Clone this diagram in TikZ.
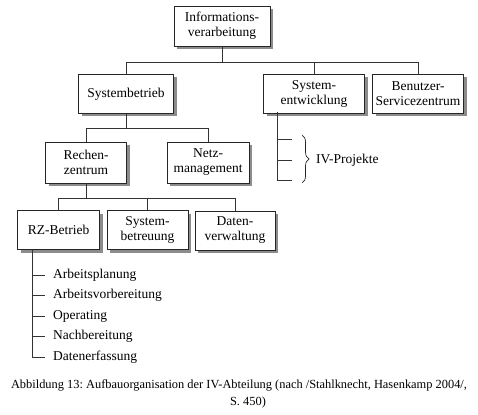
\documentclass[tikz,border=0pt]{standalone}
\usepackage{fontspec}
\setmainfont{Liberation Serif}
\usetikzlibrary{shadows,decorations.pathreplacing}
\frenchspacing
\begin{document}
\begin{tikzpicture}[x=1pt,y=-1pt,
  orgbox/.style={draw=black!85, line width=0.8pt, fill=white, align=center, inner sep=0pt,
    font=\fontsize{13.5}{15}\selectfont,
    general shadow={fill=black!45, shadow xshift=3pt, shadow yshift=-3pt}},
  conn/.style={draw=black!80, line width=0.9pt},
  item/.style={anchor=west, inner sep=0pt, font=\fontsize{13.5}{15}\selectfont},
  captext/.style={inner sep=0pt, font=\fontsize{12.4}{14}\selectfont}]
\useasboundingbox (0,0) rectangle (478,414);
% boxes
\node[orgbox, minimum width=96pt, minimum height=40pt] (info) at (222,26) {Informations-\\verarbeitung};
\node[orgbox, minimum width=95pt, minimum height=39pt] (sysb) at (126,94) {Systembetrieb};
\node[orgbox, minimum width=101pt, minimum height=39pt] (syse) at (314,93.5) {System-\\entwicklung};
\node[orgbox, minimum width=91pt, minimum height=39pt] (benu) at (418,93.5) {Benutzer-\\Servicezentrum};
\node[orgbox, minimum width=81pt, minimum height=41pt] (rech) at (86,162.5) {Rechen-\\zentrum};
\node[orgbox, minimum width=82pt, minimum height=41pt] (netz) at (208,162.5) {Netz-\\management};
\node[orgbox, minimum width=82pt, minimum height=39pt] (rzb) at (58.5,230) {RZ-Betrieb};
\node[orgbox, minimum width=81pt, minimum height=39pt] (sbt) at (147.5,230) {System-\\betreuung};
\node[orgbox, minimum width=80pt, minimum height=39pt] (dat) at (235,230.5) {Daten-\\verwaltung};
% level connectors
\coordinate (h1) at (222,62);
\coordinate (h2) at (126,128);
\coordinate (h3) at (86,198);
\draw[conn] (info.south) -- (h1);
\draw[conn] (sysb.north) -- (sysb.north |- h1) -- (benu.north |- h1) -- (benu.north);
\draw[conn] (syse.north) -- (syse.north |- h1);
\draw[conn] (sysb.south) -- (h2);
\draw[conn] (rech.north) -- (rech.north |- h2) -- (netz.north |- h2) -- (netz.north);
\draw[conn] (rech.south) -- (h3);
\draw[conn] (rzb.north) -- (rzb.north |- h3) -- (dat.north |- h3) -- (dat.north);
\draw[conn] (sbt.north) -- (sbt.north |- h3);
% IV-Projekte
\coordinate (pv) at (277,112);
\coordinate (p1) at (292,139);
\coordinate (p2) at (292,160);
\coordinate (p3) at (292,180);
\draw[conn] (pv) -- (pv |- p3) -- (p3);
\draw[conn] (pv |- p1) -- (p1);
\draw[conn] (pv |- p2) -- (p2);
\coordinate (bt) at (302,135);
\coordinate (bb) at (302,183);
\draw[black!85, line width=0.7pt, decorate, decoration={brace, amplitude=7pt}] (bt) -- (bb);
\node[item] (ivp) at (316,160) {IV-Projekte};
% RZ-Betrieb list
\node[item] (i1) at (53,275) {Arbeitsplanung};
\node[item] (i2) at (53,295) {Arbeitsvorbereitung};
\node[item] (i3) at (53,316) {Operating};
\node[item] (i4) at (53,336) {Nachbereitung};
\node[item] (i5) at (53,357) {Datenerfassung};
\coordinate (lt) at (32,250);
\draw[conn] (lt) -- (lt |- i5.west) -- ([xshift=-8pt]i5.west);
\draw[conn] (lt |- i1.west) -- ([xshift=-8pt]i1.west);
\draw[conn] (lt |- i2.west) -- ([xshift=-8pt]i2.west);
\draw[conn] (lt |- i3.west) -- ([xshift=-8pt]i3.west);
\draw[conn] (lt |- i4.west) -- ([xshift=-8pt]i4.west);
% caption
\node[captext] (c1) at (239,385) {Abbildung 13: Aufbauorganisation der IV-Abteilung (nach /Stahlknecht, Hasenkamp 2004/,};
\node[captext] (c2) at (248,403) {S. 450)};
\end{tikzpicture}
\end{document}
